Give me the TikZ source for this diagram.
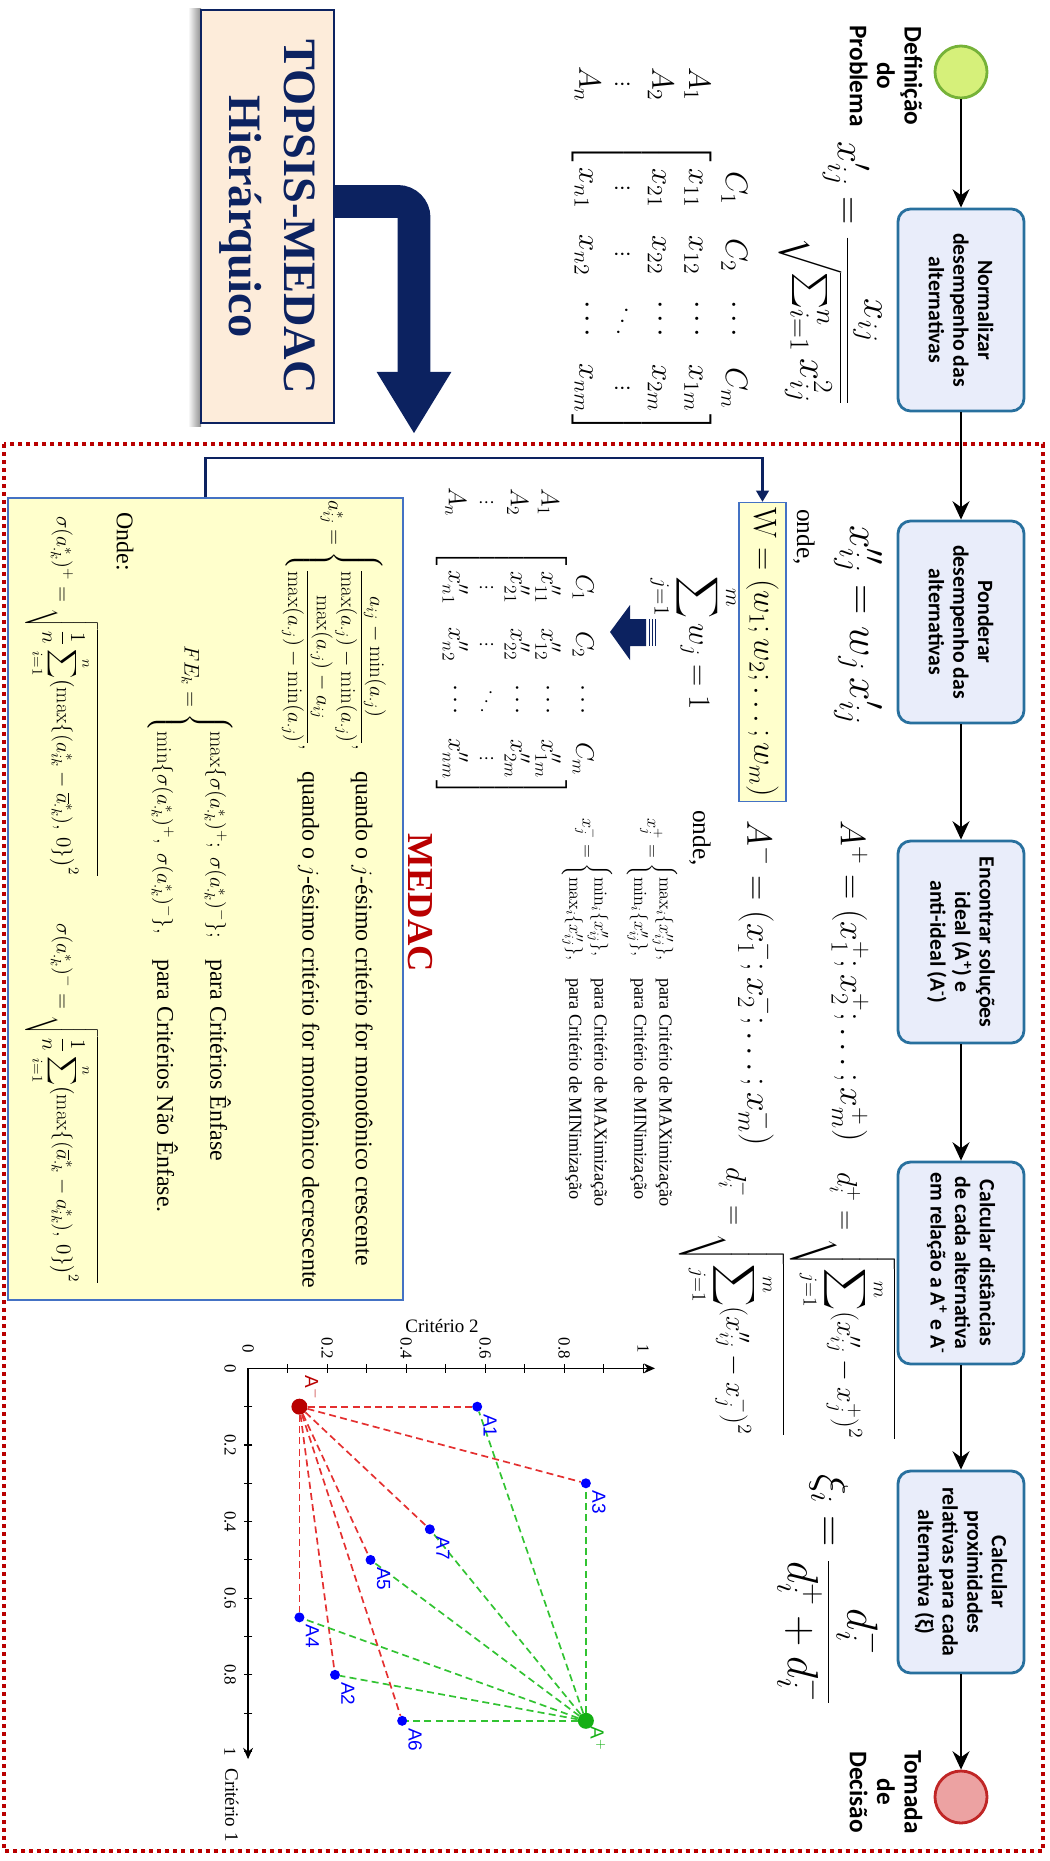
\documentclass[tikz,border=0pt]{standalone}
\usepackage{fix-cm}
\usepackage{amsmath}
\usepackage{fontspec}
\newfontfamily\caixafonte{Carlito}
\newfontfamily\serifafonte{Liberation Serif}
\newfontfamily\rotulofonte{Liberation Sans}
\usetikzlibrary{arrows.meta,calc}

\definecolor{azulborda}{RGB}{40,112,158}
\definecolor{lilas}{RGB}{233,237,250}
\definecolor{verdeclaro}{RGB}{214,240,122}
\definecolor{verdeborda}{RGB}{118,178,56}
\definecolor{rosa}{RGB}{236,162,162}
\definecolor{vermelhoborda}{RGB}{192,38,38}
\definecolor{marinho}{RGB}{12,34,96}
\definecolor{pessego}{RGB}{253,236,218}
\definecolor{amarelo}{RGB}{255,255,204}
\definecolor{azulw}{RGB}{68,114,196}
\definecolor{vinho}{RGB}{185,0,0}
\definecolor{verdept}{RGB}{20,175,20}

\newcommand{\celula}[1]{\makebox[1.7em]{$#1$}}
\newcommand{\txtmedac}[1]{\text{\fontsize{17}{19}\selectfont #1}}

\begin{document}
\begin{tikzpicture}[x=0.025cm, y=-0.025cm,
  giro/.style={rotate=-90},
  etapa/.style={giro, shape=rectangle, draw=azulborda, fill=lilas, line width=2pt, rounded corners=9pt, minimum width=5.05cm, minimum height=3.15cm, align=center, font=\caixafonte\bfseries\fontsize{15.5}{17.5}\selectfont},
  evento/.style={shape=circle, line width=2pt, minimum size=1.3cm},
  rotulo/.style={giro, align=center, font=\caixafonte\bfseries\fontsize{18}{19.5}\selectfont},
  fluxo/.style={-{Stealth[length=13pt,width=12pt]}, line width=1.6pt},
  formula/.style={giro, inner sep=0pt, font=\fontsize{28}{32}\selectfont},
  onde/.style={giro, inner sep=0pt, font=\serifafonte\fontsize{18}{20}\selectfont},
  casos/.style={giro, inner sep=0pt, font=\serifafonte\fontsize{13}{15}\selectfont},
  medactexto/.style={giro, inner sep=0pt, font=\serifafonte\fontsize{15}{18}\selectfont},
  marca/.style={inner sep=0pt, font=\serifafonte\fontsize{12}{14}\selectfont},
  rotalt/.style={giro, inner sep=0pt, text=blue, font=\rotulofonte\fontsize{13.5}{15}\selectfont},
  alt/.style={shape=circle, fill=blue, inner sep=0pt, minimum size=0.25cm},
  traconeg/.style={draw={rgb,255:red,228;green,48;blue,48}, line width=1.2pt, dash pattern=on 5pt off 3pt},
  tracopos/.style={draw={rgb,255:red,50;green,195;blue,50}, line width=1.2pt, dash pattern=on 5pt off 3pt},
  eixo/.style={line width=1.2pt, -{Stealth[length=8pt,width=7pt]}}]

\useasboundingbox (0,0) rectangle (1050,1861);

\draw[draw=vinho, line width=0.1cm, dash pattern=on 0.1cm off 0.1cm] (4,444) rectangle (1043,1851);

\node[evento, draw=verdeborda, fill=verdeclaro] (inicio) at (961,72) {};
\node[rotulo] (definicao) at (886,76) {Definição\\do\\Problema};
\node[etapa] (b1) at (961,310) {Normalizar\\desempenho das\\alternativas};
\node[etapa] (b2) at (961,622) {Ponderar\\desempenho das\\alternativas};
\node[etapa] (b3) at (961,942) {Encontrar soluções\\ideal (A\textsuperscript{+}) e\\anti-ideal (A\textsuperscript{-})};
\node[etapa] (b4) at (961,1263) {Calcular distâncias\\de cada alternativa\\em relação a A\textsuperscript{+} e A\textsuperscript{-}};
\node[etapa] (b5) at (961,1572) {Calcular\\proximidades\\relativas para cada\\alternativa (ξ)};
\node[evento, draw=vermelhoborda, fill=rosa] (fim) at (961,1797) {};
\node[rotulo] (tomada) at (886,1792) {Tomada\\de\\Decisão};

\draw[fluxo] (inicio) -- (b1.west);
\draw[fluxo] (b1.east) -- (b2.west);
\draw[fluxo] (b2.east) -- (b3.west);
\draw[fluxo] (b3.east) -- (b4.west);
\draw[fluxo] (b4.east) -- (b5.west);
\draw[fluxo] (b5.east) -- (fim);

\node[formula, anchor=west] (fnorm) at (830,141) {$\displaystyle x'_{ij} = \frac{x_{ij}}{\sqrt{\sum_{i=1}^{n} x_{ij}^{2}}}$};
\node[giro, inner sep=0pt, font=\fontsize{22}{26}\selectfont] (matriz) at (660,250) {$\begin{array}{c@{\hspace{1.3em}}c}
 & \begin{matrix}\celula{C_1} & \celula{C_2} & \celula{\cdots} & \celula{C_m}\end{matrix}\\
 \begin{matrix}A_1\\ A_2\\ \vdots\\ A_n\end{matrix} &
 \begin{bmatrix}\celula{x_{11}} & \celula{x_{12}} & \celula{\cdots} & \celula{x_{1m}}\\ x_{21} & x_{22} & \cdots & x_{2m}\\ \vdots & \vdots & \ddots & \vdots\\ x_{n1} & x_{n2} & \cdots & x_{nm}\end{bmatrix}
\end{array}$};

\node[formula, anchor=west, font=\fontsize{30}{34}\selectfont] (fpond) at (858,525) {$x''_{ij} = w_j\, x'_{ij}$};
\node[onde] (onde1) at (804,537) {onde,};
\node[giro, draw=azulw, fill=amarelo, line width=1pt, minimum width=7.3cm, minimum height=1.175cm, font=\fontsize{23}{27}\selectfont] (wbox) at (762.5,652) {$\mathrm{W} = (w_1; w_2; \ldots; w_m)$};
\node[giro, inner sep=0pt, font=\fontsize{22}{26}\selectfont] (somaw) at (693,643) {$\displaystyle\sum_{j=1}^{m} w_j = 1$};
\fill[marinho] (610,632) -- (630,605) -- (630,619) -- (646,619) -- (646,646) -- (630,646) -- (630,660) -- cycle;
\foreach \s in {648.5,651.5,654.5} \fill[marinho] (\s,619) rectangle ++(1.6,27);
\node[giro, inner sep=0pt, font=\fontsize{18}{22}\selectfont] (matrizp) at (517,642) {$\begin{array}{c@{\hspace{1.3em}}c}
 & \begin{matrix}\celula{C_1} & \celula{C_2} & \celula{\cdots} & \celula{C_m}\end{matrix}\\
 \begin{matrix}A_1\\ A_2\\ \vdots\\ A_n\end{matrix} &
 \begin{bmatrix}\celula{x''_{11}} & \celula{x''_{12}} & \celula{\cdots} & \celula{x''_{1m}}\\ x''_{21} & x''_{22} & \cdots & x''_{2m}\\ \vdots & \vdots & \ddots & \vdots\\ x''_{n1} & x''_{n2} & \cdots & x''_{nm}\end{bmatrix}
\end{array}$};

\node[formula, anchor=west, font=\fontsize{25}{29}\selectfont] (aideal) at (850,820) {$A^{+} = (x_1^{+}; x_2^{+}; \ldots; x_m^{+})$};
\node[formula, anchor=west, font=\fontsize{25}{29}\selectfont] (aanti) at (757,820) {$A^{-} = (x_1^{-}; x_2^{-}; \ldots; x_m^{-})$};
\node[onde] (onde2) at (700,838) {onde,};
\node[casos, anchor=west] (xmais) at (652,818) {$x_j^{+} = \begin{cases}\max_i\{x''_{ij}\}, & \text{para Critério de MAXimização}\\ \min_i\{x''_{ij}\}, & \text{para Critério de MINimização}\end{cases}$};
\node[casos, anchor=west] (xmenos) at (587,818) {$x_j^{-} = \begin{cases}\min_i\{x''_{ij}\}, & \text{para Critério de MAXimização}\\ \max_i\{x''_{ij}\}, & \text{para Critério de MINimização}\end{cases}$};

\node[formula, anchor=west, font=\fontsize{20}{24}\selectfont] (dmais) at (843,1172) {$d_i^{+} = \sqrt{\displaystyle\sum_{j=1}^{m}(x''_{ij}-x_j^{+})^2}$};
\node[formula, anchor=west, font=\fontsize{20}{24}\selectfont] (dmenos) at (732,1167) {$d_i^{-} = \sqrt{\displaystyle\sum_{j=1}^{m}(x''_{ij}-x_j^{-})^2}$};
\node[formula, anchor=west, font=\fontsize{31}{35}\selectfont] (prox) at (830,1474) {$\xi_i = \dfrac{d_i^{-}}{d_i^{+}+d_i^{-}}$};

\shade[left color=white, right color=black!45] (188,8) rectangle (201,426);
\node[giro, draw=marinho, fill=pessego, line width=0.8pt, minimum width=10.325cm, minimum height=3.325cm, align=center, text=marinho, font=\serifafonte\bfseries\fontsize{33}{39}\selectfont] (topsis) at (267.5,216.5) {TOPSIS-MEDAC\\Hierárquico};
\coordinate (medacin) at (414,434);
\draw[draw=marinho, line width=0.82cm, rounded corners=0.4cm, -{Triangle[width=1.75cm,length=1.55cm]}] ($(topsis.north)+(0,-15)$) -| (medacin);

\node[draw=azulw, fill=amarelo, line width=1pt, minimum width=9.875cm, minimum height=20.05cm] (medac) at (205.5,899) {};
\draw[draw=marinho, line width=1.6pt, -{Triangle[width=9pt,length=8pt]}] (medac.north) -- ++(0,-39) -| (wbox.west);
\node[giro, text=vinho, font=\serifafonte\bfseries\fontsize{26}{30}\selectfont] (medactit) at (420,903) {MEDAC};

\node[medactexto, anchor=west] (normmedac) at (334,500) {$a^{*}_{ij} = \begin{cases}\dfrac{a_{ij}-\min(a_{\cdot j})}{\max(a_{\cdot j})-\min(a_{\cdot j})}, & \txtmedac{quando o $j$-ésimo critério for monotônico crescente}\\[10pt] \dfrac{\max(a_{\cdot j})-a_{ij}}{\max(a_{\cdot j})-\min(a_{\cdot j})}, & \txtmedac{quando o $j$-ésimo critério for monotônico decrescente}\end{cases}$};
\node[medactexto, anchor=west] (fek) at (190,645) {$FE_k = \begin{cases}\max\{\sigma(a^{*}_{\cdot k})^{+};\ \sigma(a^{*}_{\cdot k})^{-}\}; & \txtmedac{para Critérios Ênfase}\\[16pt] \min\{\sigma(a^{*}_{\cdot k})^{+},\ \sigma(a^{*}_{\cdot k})^{-}\}, & \txtmedac{para Critérios Não Ênfase.}\end{cases}$};
\node[medactexto, anchor=west, font=\serifafonte\fontsize{17}{19}\selectfont] (ondemedac) at (125,512) {Onde:};
\node[medactexto, anchor=west] (sigmamais) at (62,516) {$\sigma(a^{*}_{\cdot k})^{+} = \sqrt{\dfrac{1}{n}\displaystyle\sum_{i=1}^{n}\bigl(\max\{(a^{*}_{ik}-\overline{a}^{*}_{\cdot k}),\,0\}\bigr)^2}$};
\node[medactexto, anchor=west] (sigmamenos) at (62,923) {$\sigma(a^{*}_{\cdot k})^{-} = \sqrt{\dfrac{1}{n}\displaystyle\sum_{i=1}^{n}\bigl(\max\{(\overline{a}^{*}_{\cdot k}-a^{*}_{ik}),\,0\}\bigr)^2}$};

\node[marca, font=\serifafonte\fontsize{13.5}{15}\selectfont] (crit2) at (442,1326) {Critério 2};
\node[marca, giro, font=\serifafonte\fontsize{13.5}{15}\selectfont] (crit1) at (232,1805) {Critério 1};

\begin{scope}[shift={(6.2cm,-34.2cm)}, x=9.875cm, y=-9.575cm]
\draw[eixo] (0,0) -- (1.03,0);
\draw[eixo] (0,0) -- (0,1.02);
\foreach \k in {1,...,10} {
  \draw[line width=0.8pt] ($(\k/10,0)+(0,3pt)$) -- ($(\k/10,0)+(0,-3pt)$);
  \draw[line width=0.8pt] ($(0,\k/10)+(3pt,0)$) -- ($(0,\k/10)+(-3pt,0)$);
}
\foreach \v [count=\i] in {0,0.2,0.4,0.6,0.8,1} {
  \node[giro, marca] (mx\i) at ($(\v,0)+(0,0.5cm)$) {\v};
  \node[giro, marca] (my\i) at ($(0,\v)+(-0.45cm,0)$) {\v};
}
\node[alt] (A1) at (0.58,0.10) {};
\node[alt] (A2) at (0.22,0.80) {};
\node[alt] (A3) at (0.855,0.30) {};
\node[alt] (A4) at (0.13,0.65) {};
\node[alt] (A5) at (0.31,0.50) {};
\node[alt] (A6) at (0.39,0.92) {};
\node[alt] (A7) at (0.46,0.42) {};
\node[shape=circle, fill=vinho, inner sep=0pt, minimum size=0.4cm] (Aneg) at (0.13,0.10) {};
\node[shape=circle, fill=verdept, inner sep=0pt, minimum size=0.4cm] (Apos) at (0.855,0.92) {};
\foreach \a in {A1,A2,A3,A4,A5,A6,A7} {
  \draw[traconeg] (Aneg) -- (\a);
  \draw[tracopos] (Apos) -- (\a);
}
\foreach \a in {1,...,7} \node[rotalt] (rA\a) at ($(A\a)+(0.325cm,-0.475cm)$) {A\a};
\node[rotalt, text=verdept] (rApos) at ($(Apos)+(0.3cm,-0.45cm)$) {A$^{+}$};
\node[rotalt, text=vinho] (rAneg) at ($(Aneg)+(0.325cm,0.475cm)$) {A$^{-}$};
\end{scope}
\end{tikzpicture}
\end{document}
